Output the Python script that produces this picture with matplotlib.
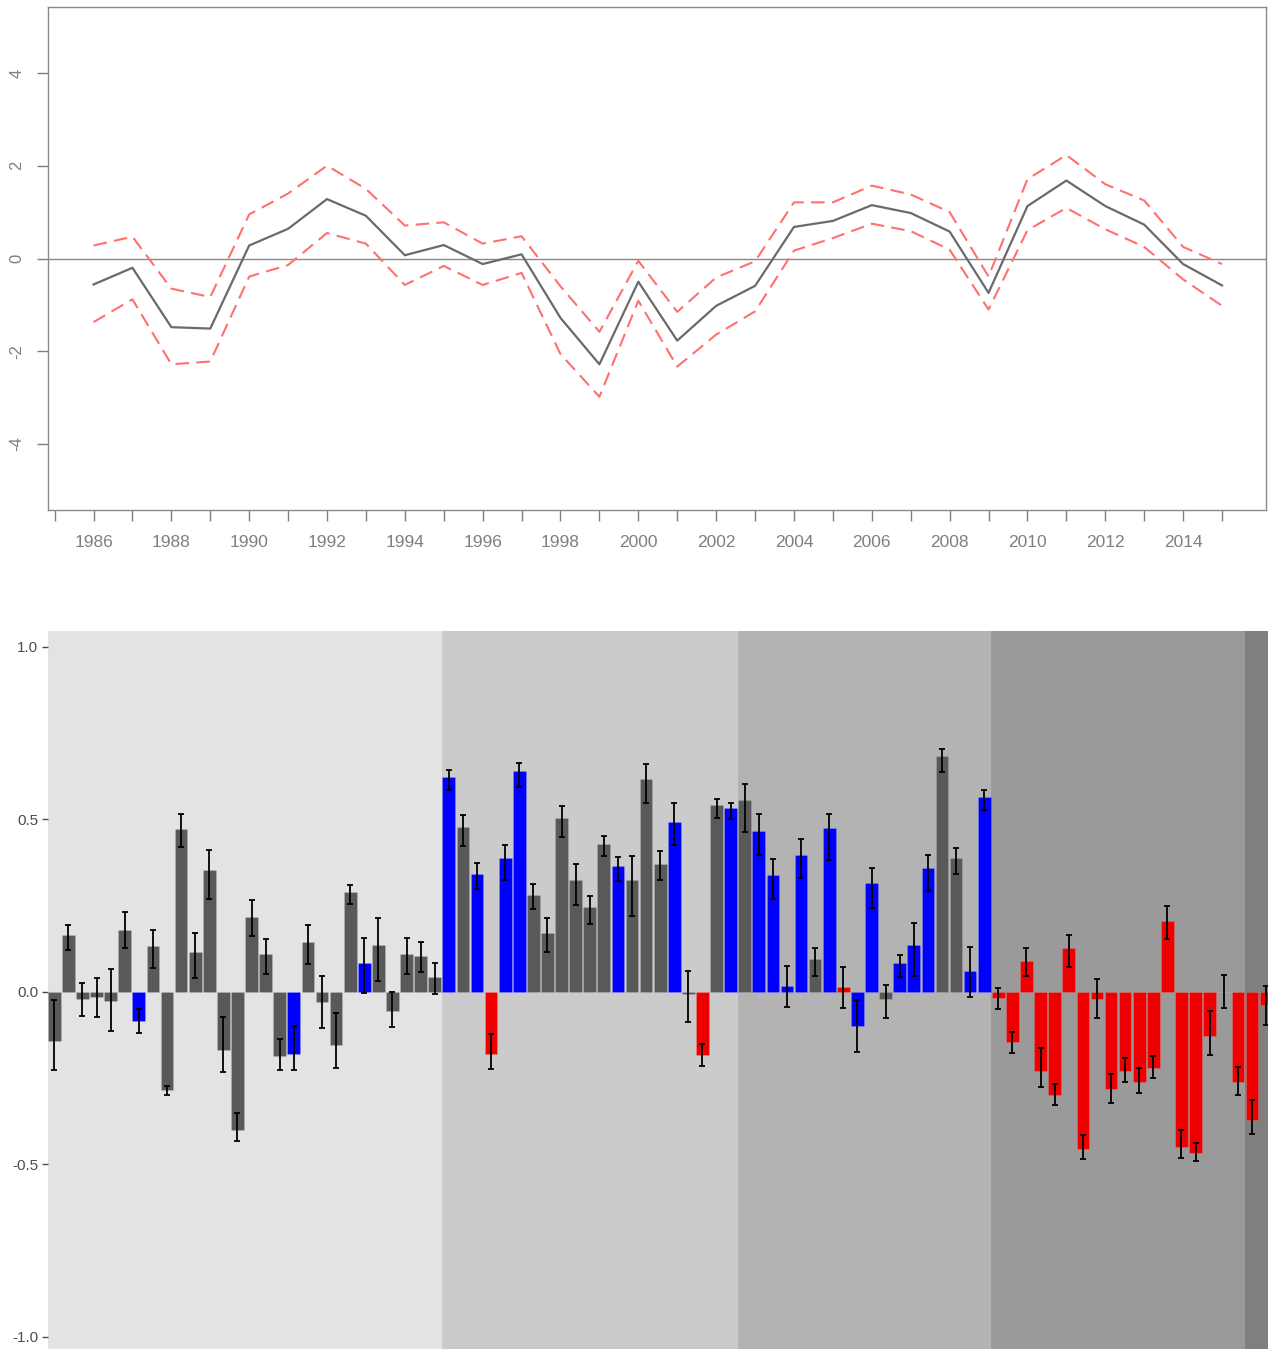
import matplotlib
matplotlib.use("Agg")
import matplotlib.pyplot as plt
import numpy as np

plt.rcParams['font.family'] = ['Liberation Sans', 'DejaVu Sans']

# ---------------- Top chart data ----------------
years = list(range(1986, 2016))
index_mean = [-0.56, -0.20, -1.48, -1.51, 0.28, 0.64, 1.28, 0.92, 0.07, 0.29,
              -0.12, 0.09, -1.28, -2.28, -0.50, -1.77, -1.02, -0.59, 0.68, 0.81,
              1.15, 0.98, 0.58, -0.74, 1.13, 1.68, 1.13, 0.73, -0.12, -0.58]
index_upper = [0.28, 0.47, -0.65, -0.83, 0.95, 1.40, 2.00, 1.50, 0.71, 0.78,
               0.32, 0.48, -0.60, -1.58, -0.05, -1.15, -0.41, -0.06, 1.21, 1.21,
               1.57, 1.38, 1.00, -0.39, 1.71, 2.23, 1.60, 1.25, 0.25, -0.12]
index_lower = [-1.37, -0.88, -2.28, -2.22, -0.39, -0.14, 0.55, 0.32, -0.57, -0.16,
               -0.57, -0.31, -2.06, -2.98, -0.91, -2.33, -1.64, -1.14, 0.17, 0.44,
               0.75, 0.59, 0.19, -1.10, 0.61, 1.09, 0.63, 0.25, -0.45, -1.02]
top_yticks = [-4, -2, 0, 2, 4]
top_xtick_labels = [str(y) for y in range(1986, 2016, 2)]

# ---------------- Bottom chart data ----------------
bar_values = [-0.142, 0.165, -0.022, -0.016, -0.025, 0.180, -0.085, 0.134, -0.284, 0.473,
              0.117, 0.353, -0.168, -0.400, 0.218, 0.109, -0.187, -0.180, 0.146, -0.029,
              -0.153, 0.289, 0.083, 0.135, -0.055, 0.109, 0.104, 0.044, 0.624, 0.477,
              0.341, -0.180, 0.387, 0.639, 0.282, 0.170, 0.504, 0.324, 0.245, 0.428,
              0.365, 0.324, 0.617, 0.372, 0.492, -0.005, -0.183, 0.541, 0.533, 0.556,
              0.466, 0.338, 0.018, 0.398, 0.095, 0.474, 0.015, -0.100, 0.315, -0.021,
              0.083, 0.135, 0.358, 0.684, 0.388, 0.061, 0.564, -0.017, -0.145, 0.090,
              -0.228, -0.299, 0.127, -0.456, -0.021, -0.280, -0.228, -0.261, -0.221, 0.206,
              -0.450, -0.468, -0.127, 0.000, -0.262, -0.371, -0.037]
err_low = [-0.227, 0.122, -0.070, -0.073, -0.114, 0.127, -0.118, 0.069, -0.299, 0.419,
           0.040, 0.269, -0.231, -0.433, 0.163, 0.051, -0.226, -0.226, 0.081, -0.105,
           -0.222, 0.254, -0.002, 0.032, -0.103, 0.053, 0.058, -0.005, 0.585, 0.423,
           0.298, -0.223, 0.325, 0.595, 0.239, 0.115, 0.449, 0.253, 0.197, 0.393,
           0.321, 0.220, 0.547, 0.325, 0.426, -0.088, -0.216, 0.505, 0.501, 0.464,
           0.397, 0.269, -0.044, 0.329, 0.046, 0.381, -0.046, -0.174, 0.243, -0.076,
           0.042, 0.046, 0.291, 0.636, 0.343, -0.014, 0.528, -0.051, -0.178, 0.047,
           -0.276, -0.329, 0.073, -0.485, -0.076, -0.321, -0.261, -0.294, -0.250, 0.153,
           -0.482, -0.490, -0.182, -0.047, -0.298, -0.411, -0.096]
err_high = [-0.024, 0.194, 0.025, 0.040, 0.066, 0.231, -0.050, 0.179, -0.273, 0.517,
            0.171, 0.412, -0.073, -0.350, 0.265, 0.153, -0.137, -0.099, 0.194, 0.047,
            -0.062, 0.310, 0.157, 0.213, 0.000, 0.157, 0.146, 0.085, 0.644, 0.514,
            0.374, -0.122, 0.426, 0.663, 0.314, 0.213, 0.540, 0.371, 0.277, 0.453,
            0.390, 0.394, 0.660, 0.409, 0.547, 0.062, -0.152, 0.558, 0.547, 0.604,
            0.517, 0.386, 0.074, 0.442, 0.127, 0.517, 0.071, -0.024, 0.360, 0.020,
            0.108, 0.201, 0.397, 0.705, 0.416, 0.131, 0.585, 0.010, -0.115, 0.127,
            -0.162, -0.268, 0.164, -0.415, 0.036, -0.238, -0.191, -0.220, -0.185, 0.248,
            -0.400, -0.437, -0.054, 0.048, -0.219, -0.312, 0.018]
bar_class = list("ggggggbggggggggggbggggbggggg"      # 1-28
                 "bgbrbbggggggbgggbgrgb"              # 29-49
                 "gbbbbgbrbbgbbbggbb"                 # 50-67
                 "rrrrrrrrrrrrrrrrrrrr")              # 68-87
band_edges = [0.5, 28.5, 49.5, 67.5, 85.5, 90.0]
band_colors = ["#E3E3E3", "#CBCBCB", "#B3B3B3", "#9A9A9A", "#7F7F7F"]
class_colors = {"g": "#595959", "b": "#0000FF", "r": "#EE0000"}
bottom_yticks = [-1.0, -0.5, 0.0, 0.5, 1.0]

# ---------------- Figure ----------------
W, H = 1268, 1349
fig = plt.figure(figsize=(W / 100, H / 100), dpi=100)

def frac(x0, y0, x1, y1):
    return [x0 / W, 1 - y1 / H, (x1 - x0) / W, (y1 - y0) / H]

# Top chart
ax1 = fig.add_axes(frac(48, 7, 1266, 510))
axis_gray = "#7F7F7F"
ax1.axhline(0, color="#888888", lw=1.0, zorder=1)
ax1.plot(years, index_upper, color="#FF7070", lw=1.5, dashes=(6.5, 3.5), zorder=2)
ax1.plot(years, index_lower, color="#FF7070", lw=1.5, dashes=(6.5, 3.5), zorder=2)
ax1.plot(years, index_mean, color="#6A6A6A", lw=1.6, zorder=3)
ax1.set_xlim(1984.83, 2016.13)
ax1.set_ylim(-5.42, 5.42)
ax1.set_yticks(top_yticks)
ax1.set_yticklabels([str(t) for t in top_yticks], rotation=90, va="center",
                    fontsize=12, color=axis_gray)
ax1.set_xticks(range(1985, 2016))
ax1.set_xticklabels(["" if (y % 2) else str(y) for y in range(1985, 2016)],
                    fontsize=12.5, color=axis_gray)
ax1.tick_params(axis="both", colors=axis_gray, length=8, width=1.0)
ax1.tick_params(axis="x", pad=10, labelcolor=axis_gray)
ax1.tick_params(axis="y", pad=9, labelcolor=axis_gray)
for s in ax1.spines.values():
    s.set_color("#8A8A8A")
    s.set_linewidth(1.0)

# Bottom chart
ax2 = fig.add_axes(frac(48, 631, 1268, 1349))
x = np.arange(1, len(bar_values) + 1)
for i in range(len(band_colors)):
    ax2.axvspan(band_edges[i], band_edges[i + 1], color=band_colors[i], lw=0, zorder=0)
colors = [class_colors[c] for c in bar_class]
ax2.bar(x, bar_values, width=0.9, color=colors, edgecolor=(1, 1, 1, 0.15),
        linewidth=0.6, zorder=2)
lo = np.array(err_low)
hi = np.array(err_high)
ax2.errorbar(x, (lo + hi) / 2, yerr=(hi - lo) / 2, fmt="none", ecolor="black",
             elinewidth=1.3, capsize=2.0, capthick=1.3, zorder=3)
ax2.set_xlim(0.553, 87.14)
ax2.set_ylim(-1.035, 1.046)
ax2.set_yticks(bottom_yticks)
ax2.set_yticklabels([f"{t:.1f}" for t in bottom_yticks], fontsize=11, color="#4D4D4D")
ax2.tick_params(axis="y", colors="#4D4D4D", length=4, width=1.0, pad=3)
ax2.tick_params(axis="y", labelcolor="#4D4D4D")
ax2.set_xticks([])
for s in ax2.spines.values():
    s.set_visible(False)

fig.savefig("out.png", dpi=100)
